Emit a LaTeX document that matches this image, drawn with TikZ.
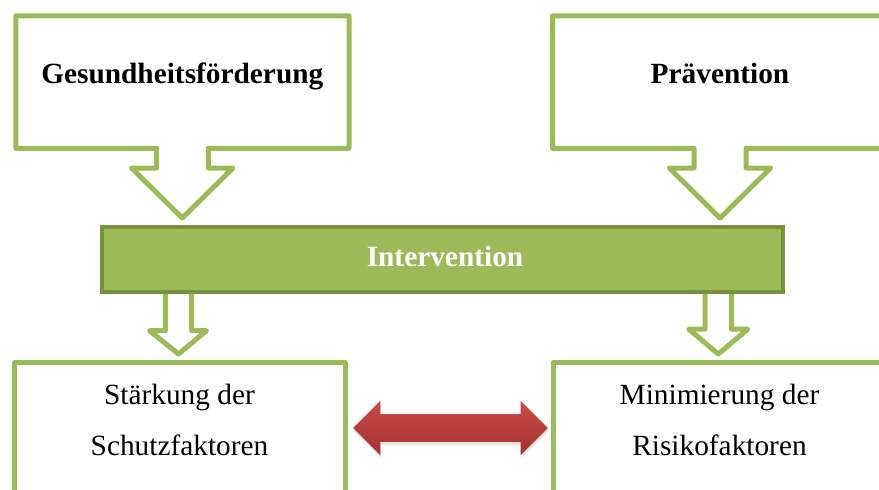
\documentclass[tikz,border=0pt]{standalone}
\usepackage{fontspec}
\setmainfont{Liberation Serif}
\usetikzlibrary{shapes.arrows,shadows}

\definecolor{hellgruen}{HTML}{9BBB59}
\definecolor{dunkelgruen}{HTML}{76923C}
\definecolor{rotoben}{HTML}{CB4C48}
\definecolor{rotunten}{HTML}{A3302E}

\tikzset{
  rahmen/.style={draw=hellgruen, line width=0.1cm, line join=round},
  schrift/.style={font=\fontsize{16.7}{29}\selectfont, align=center, anchor=base, inner sep=0pt},
  titel/.style={schrift, font=\fontsize{16.7}{29}\selectfont\bfseries},
  balken/.style={draw=dunkelgruen, fill=hellgruen, line width=0.08cm, minimum width=13.62cm, minimum height=1.3cm},
  doppelpfeil/.style={double arrow, draw=none, minimum height=3.9cm, minimum width=1.08cm,
    inner xsep=0pt, inner ysep=0.27cm, double arrow head extend=0.27cm,
    top color=rotoben, bottom color=rotunten,
    drop shadow={opacity=0.2, shadow xshift=0.02cm, shadow yshift=-0.06cm}}
}

\begin{document}
\begin{tikzpicture}[x=0.02cm, y=-0.02cm]
    \useasboundingbox (0,0) rectangle (879,490);
    \clip (0,0) rectangle (879,490);
    \draw[rahmen] (15.8,15.8) -- (349,15.8) -- (349,148.3) -- (208.3,148.3) -- (208.3,168) -- (233,168) -- (182.3,218) -- (131.5,168) -- (156.7,168) -- (156.7,148.3) -- (15.8,148.3) -- cycle; % box left
    \draw[rahmen] (552.5,15.8) -- (900,15.8) -- (900,148.3) -- (746,148.3) -- (746,168) -- (770.7,168) -- (720,218) -- (669.3,168) -- (694,168) -- (694,148.3) -- (552.5,148.3) -- cycle; % box right
    \draw[rahmen] (165.3,293) -- (165.3,330.7) -- (149.5,330.7) -- (178.5,354) -- (206.5,330.7) -- (191.7,330.7) -- (191.7,293); % small arrow left
    \draw[rahmen] (705.2,293) -- (705.2,329.2) -- (688.7,329.2) -- (718.3,354) -- (747.8,329.2) -- (731.5,329.2) -- (731.5,293); % small arrow right
    \draw[rahmen] (14.8,520) -- (14.8,362.5) -- (345,362.5) -- (345,520); % box bottom left
    \draw[rahmen] (553,520) -- (553,362.5) -- (900,362.5); % box bottom right
    \node[balken] (inter) at (442.5,259.5) {}; % bar
    \node[doppelpfeil] (wechsel) at (450.5,428) {}; % red arrow
    \node[titel] (gf) at (182.3,83) {Gesundheitsförderung};
    \node[titel] (prae) at (720,83) {Prävention};
    \node[titel, text=white] (intertext) at (445,266) {Intervention};
    \node[schrift] (staerk) at (179.5,455) {Stärkung der\\Schutzfaktoren}; % base = last line
    \node[schrift] (minim) at (719.5,455) {Minimierung der\\Risikofaktoren};
\end{tikzpicture}
\end{document}
